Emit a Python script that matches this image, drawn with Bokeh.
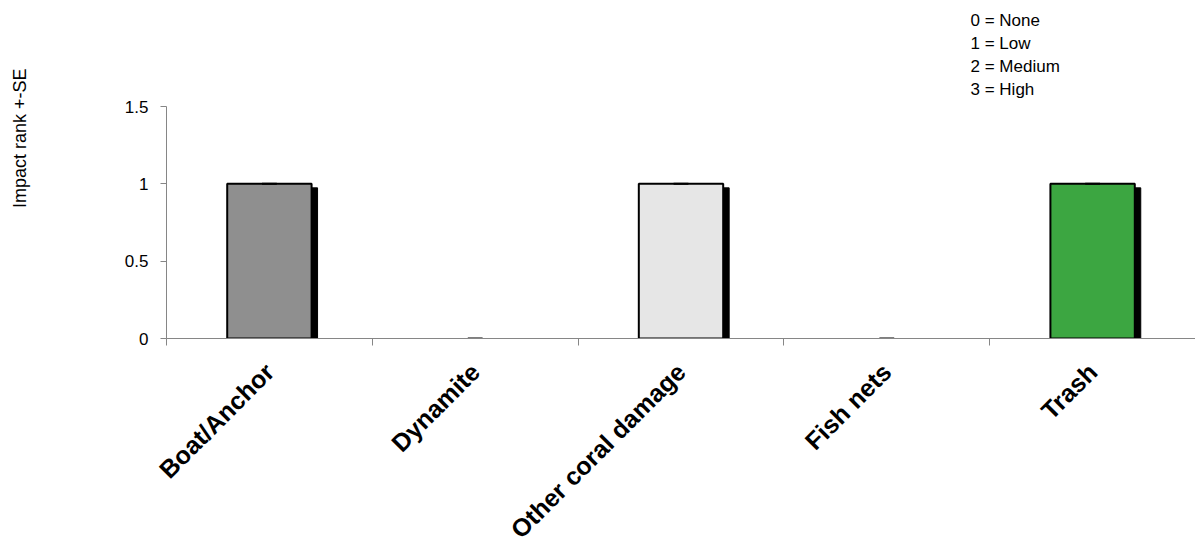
from bokeh.plotting import figure
from bokeh.models import FixedTicker, Range1d, Title
from bokeh.embed import file_html
from bokeh.resources import INLINE

categories = ["Boat/Anchor", "Dynamite", "Other coral damage", "Fish nets", "Trash"]
values = [1, 0, 1, 0, 1]
se = [0, 0, 0, 0, 0]
colors = ["#8f8f8f", "#ffffff", "#e6e6e6", "#ffffff", "#3ca641"]
y_ticks = [0, 0.5, 1, 1.5]
y_tick_labels = ["0", "0.5", "1", "1.5"]
legend_lines = ["0 = None", "1 = Low", "2 = Medium", "3 = High"]
y_title = "Impact rank +-SE"

n = len(categories)
centers = [i + 0.5 for i in range(n)]
bounds = list(range(n + 1))

p = figure(width=1195, height=557, x_range=Range1d(0, n), y_range=Range1d(0, 1.5),
           output_backend="svg", toolbar_location=None,
           min_border_left=166, min_border_top=106, min_border_bottom=219, min_border_right=0)
p.outline_line_color = None
p.xgrid.grid_line_color = None
p.ygrid.grid_line_color = None

GRAY = "#868686"
FONT = "Liberation Sans"

# shadows
dx, dy = 0.029, 0.026
bx = [c for c, v in zip(centers, values) if v > 0]
bv = [v for v in values if v > 0]
bc = [col for col, v in zip(colors, values) if v > 0]
p.vbar(x=[x + dx for x in bx], top=[v - dy for v in bv], bottom=0, width=0.41,
       fill_color="black", line_color="black", line_width=1)
p.vbar(x=bx, top=bv, bottom=0, width=0.41, fill_color=bc, line_color="black", line_width=2)

# error bars
hi = [v + s for v, s in zip(values, se)]
lo = [v - s for v, s in zip(values, se)]
cw = 0.036
p.segment(x0=centers, x1=centers, y0=lo, y1=hi, line_color="black", line_width=2)
p.segment(x0=[c - cw for c in centers], x1=[c + cw for c in centers], y0=hi, y1=hi,
          line_color="black", line_width=2)

# y axis
ya = p.yaxis[0]
ya.ticker = FixedTicker(ticks=y_ticks, minor_ticks=[])
ya.major_label_overrides = {t: l for t, l in zip(y_ticks, y_tick_labels)}
ya.axis_line_color = GRAY
ya.major_tick_line_color = GRAY
ya.major_tick_in = 0
ya.major_tick_out = 6
ya.minor_tick_line_color = None
ya.major_label_text_font = FONT
ya.major_label_text_font_size = "17px"
ya.major_label_text_color = "black"
ya.major_label_standoff = 12

# x axis
xa = p.xaxis[0]
xa.ticker = FixedTicker(ticks=centers, minor_ticks=bounds)
xa.major_label_overrides = {c: l for c, l in zip(centers, categories)}
xa.axis_line_color = GRAY
xa.major_tick_line_color = None
xa.minor_tick_line_color = GRAY
xa.minor_tick_in = 0
xa.minor_tick_out = 7
xa.major_label_orientation = 0.785398
xa.major_label_text_font = FONT
xa.major_label_text_font_style = "bold"
xa.major_label_text_font_size = "25px"
xa.major_label_text_color = "black"
xa.major_label_standoff = 22

# left: spacer then y title
p.add_layout(Title(text=" ", standoff=88, text_font_size="1px"), "left")
p.add_layout(Title(text=y_title, align="right", offset=-38, standoff=0,
                   vertical_align="middle",
                   text_font=FONT, text_font_size="18px", text_font_style="normal",
                   text_color="black"), "left")

# above: spacer then rank legend (nearest to the frame first)
p.add_layout(Title(text=" ", standoff=3, text_font_size="1px"), "above")
for t in reversed(legend_lines):
    p.add_layout(Title(text=t, align="left", offset=804, standoff=1.5,
                       vertical_align="middle",
                       text_font=FONT, text_font_size="17px", text_font_style="normal",
                       text_color="black"), "above")

open("out.html", "w").write(file_html(p, INLINE))
